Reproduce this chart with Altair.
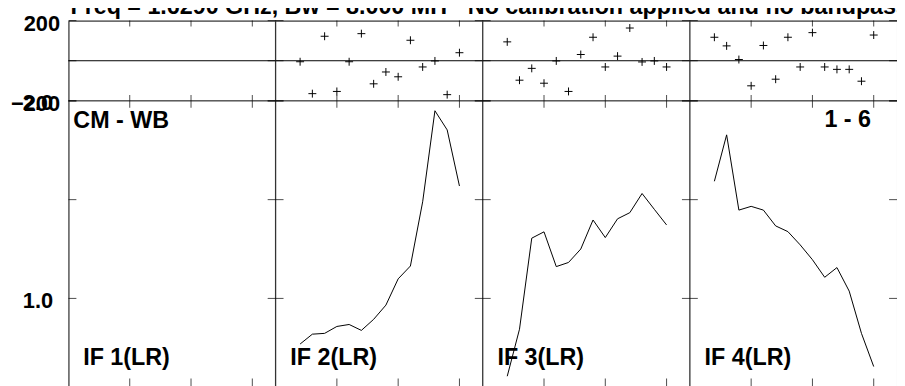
import altair as alt
import pandas as pd

# ---------------- values ----------------
TITLE_LEFT = "Freq = 1.6290 GHz, Bw = 8.000 MH"
TITLE_RIGHT = "No calibration applied and no bandpass"
CORNER_LEFT = "CM - WB"
CORNER_RIGHT = "1 - 6"
IF_LABELS = ["IF 1(LR)", "IF 2(LR)", "IF 3(LR)", "IF 4(LR)"]
IF_NUMBERS = [1, 2, 3, 4]
CHANNELS = [3, 4, 5, 6, 7, 8, 9, 10, 11, 12, 13, 14, 15, 16]

PHASE_IF2 = [-5, -164, 122, -153, -5, 135, -115, -56, -80, 102, -31, -1, -169, 40]
PHASE_IF3 = [94, -97, -38, -112, -1, -153, 31, 117, -31, 23, 163, -6, -1, -31]
PHASE_IF4 = [117, 74, 6, -125, 76, -92, 117, -31, 140, -31, -43, -43, -102, 128]

AMP_IF2 = [0.769, 0.819, 0.823, 0.858, 0.868, 0.838, 0.894, 0.966, 1.099, 1.164,
           1.489, 1.950, 1.853, 1.569]
AMP_IF3 = [0.606, 0.844, 1.305, 1.337, 1.161, 1.182, 1.250, 1.397, 1.308, 1.403,
           1.434, 1.531, 1.451, 1.372]
AMP_IF4 = [1.593, 1.828, 1.447, 1.466, 1.447, 1.367, 1.338, 1.271, 1.196, 1.107,
           1.156, 1.037, 0.823, 0.655]

CHANNEL_TICKS = [6, 11, 16]
PHASE_TICKS = [-200, 0, 200]
PHASE_LABELS = [-200, 200]
AMP_TICKS = [1.0, 1.5, 2.0]
AMP_LABELS = [1.0, 2.0]
PHASE_DOMAIN = [-200, 200]
AMP_DOMAIN = [0.555, 2.0]

# ---------------- layout (styles, not data) ----------------
PANEL_SPAN = 16.9      # channels covered by one IF panel
FIRST_CH = 1           # channel at the left edge of a panel
W, H, PHASE_H = 836, 369, 81
FONT = "Liberation Sans"
N_IF = len(IF_NUMBERS)


def gx(if_no, ch):
    return (if_no - 1) * PANEL_SPAN + (ch - FIRST_CH)


rows = []
for if_no, ph, am in [(2, PHASE_IF2, AMP_IF2), (3, PHASE_IF3, AMP_IF3), (4, PHASE_IF4, AMP_IF4)]:
    for ch, p, a in zip(CHANNELS, ph, am):
        rows.append({"IF": if_no, "ch": ch, "gx": gx(if_no, ch), "phase": p, "amp": a})
data = pd.DataFrame(rows)

xt = pd.DataFrame([{"gx": gx(i, c), "ptop": PHASE_DOMAIN[1], "pbot": PHASE_DOMAIN[0],
                    "atop": AMP_DOMAIN[1], "abot": AMP_DOMAIN[0]}
                   for i in IF_NUMBERS for c in CHANNEL_TICKS])
borders_inner = [k * PANEL_SPAN for k in range(1, N_IF)]
ph_inner = pd.DataFrame([{"gx": b, "v": v} for b in borders_inner for v in PHASE_TICKS])
am_inner = pd.DataFrame([{"gx": b, "v": v} for b in borders_inner for v in AMP_TICKS])
ph_left = pd.DataFrame([{"gx": 0.0, "v": v} for v in PHASE_TICKS])
ph_right = pd.DataFrame([{"gx": N_IF * PANEL_SPAN, "v": v} for v in PHASE_TICKS])
am_left = pd.DataFrame([{"gx": 0.0, "v": v} for v in AMP_TICKS])
am_right = pd.DataFrame([{"gx": N_IF * PANEL_SPAN, "v": v} for v in AMP_TICKS])
hlines = pd.DataFrame({"v": [0, PHASE_DOMAIN[0]]})
dividers = pd.DataFrame({"gx": borders_inner})

if_text = pd.DataFrame([{"gx": gx(i, 2.2), "amp": 0.661, "t": lab}
                        for i, lab in zip(IF_NUMBERS, IF_LABELS)])
corner_l = pd.DataFrame([{"gx": gx(1, 1.4), "amp": 1.862, "t": CORNER_LEFT}])
corner_r = pd.DataFrame([{"gx": gx(4, 15.78), "amp": 1.866, "t": CORNER_RIGHT}])
title_l = pd.DataFrame([{"t": TITLE_LEFT}])
title_r = pd.DataFrame([{"t": TITLE_RIGHT}])

XSCALE = alt.Scale(domain=[0, N_IF * PANEL_SPAN], nice=False, zero=False)


def X(field="gx"):
    return alt.X(f"{field}:Q", scale=XSCALE, axis=None)


PH_AXIS = alt.Axis(orient="left", values=PHASE_LABELS, format="d", ticks=False, tickSize=0,
                   domain=False, grid=False, labelOverlap=False, labelFont=FONT,
                   labelFontWeight="bold", labelFontSize=22, labelColor="black",
                   labelPadding=9, labelOffset=3, title=None)
AM_AXIS = alt.Axis(orient="left", values=AMP_LABELS, format=".1f", ticks=False, tickSize=0,
                   domain=False, grid=False, labelOverlap=False, labelFont=FONT,
                   labelFontWeight="bold", labelFontSize=22, labelColor="black",
                   labelPadding=16, labelOffset=2, title=None)


def PY(field):
    return alt.Y(f"{field}:Q", scale=alt.Scale(domain=PHASE_DOMAIN, range=[PHASE_H, 0],
                                               nice=False, zero=False), axis=PH_AXIS)


def AY(field):
    return alt.Y(f"{field}:Q", scale=alt.Scale(domain=AMP_DOMAIN, range=[H, PHASE_H],
                                               nice=False, zero=False), axis=AM_AXIS)


K = dict(color="black")

# ---- phase group ----
ph_rules = alt.Chart(hlines).mark_rule(strokeWidth=1, **K).encode(y=PY("v"))
div_rules = alt.Chart(dividers).mark_rule(strokeWidth=1.3, color="#333").encode(x=X())
ph_points = alt.Chart(data).mark_point(shape="M-1,0L1,0M0,-1L0,1", size=64, filled=False,
                                       stroke="black", strokeWidth=1, opacity=1).encode(
    x=X(), y=PY("phase"))
top_ticks = alt.Chart(xt).mark_tick(orient="vertical", size=6, thickness=1, yOffset=3,
                                    **K).encode(x=X(), y=PY("ptop"))
pbot_ticks = alt.Chart(xt).mark_tick(orient="vertical", size=6, thickness=1, yOffset=-3,
                                     **K).encode(x=X(), y=PY("pbot"))
ph_in = alt.Chart(ph_inner).mark_tick(orient="horizontal", size=16, thickness=1,
                                      **K).encode(x=X(), y=PY("v"))
ph_l = alt.Chart(ph_left).mark_tick(orient="horizontal", size=8, thickness=1, xOffset=4,
                                    **K).encode(x=X(), y=PY("v"))
ph_r = alt.Chart(ph_right).mark_tick(orient="horizontal", size=8, thickness=1, xOffset=-4,
                                     **K).encode(x=X(), y=PY("v"))
TXT = dict(font=FONT, fontWeight="bold", fontSize=23.5, color="black", baseline="alphabetic")
t_l = alt.Chart(title_l).mark_text(align="left", **TXT).encode(
    text="t:N", x=alt.value(2), y=alt.value(-7))
t_r = alt.Chart(title_r).mark_text(align="left", **TXT).encode(
    text="t:N", x=alt.value(403), y=alt.value(-7))

phase_group = alt.layer(ph_rules, div_rules, top_ticks, pbot_ticks, ph_in, ph_l, ph_r,
                        ph_points, t_l, t_r)

# ---- amplitude group ----
amp_lines = alt.Chart(data).mark_line(strokeWidth=1, **K).encode(
    x=X(), y=AY("amp"), detail="IF:N", order="ch:Q")
atop_ticks = alt.Chart(xt).mark_tick(orient="vertical", size=7, thickness=1, yOffset=3.5,
                                     **K).encode(x=X(), y=AY("atop"))
abot_ticks = alt.Chart(xt).mark_tick(orient="vertical", size=8, thickness=1, yOffset=-4,
                                     **K).encode(x=X(), y=AY("abot"))
am_in = alt.Chart(am_inner).mark_tick(orient="horizontal", size=16, thickness=1,
                                      **K).encode(x=X(), y=AY("v"))
am_l = alt.Chart(am_left).mark_tick(orient="horizontal", size=8, thickness=1, xOffset=4,
                                    **K).encode(x=X(), y=AY("v"))
am_r = alt.Chart(am_right).mark_tick(orient="horizontal", size=8, thickness=1, xOffset=-4,
                                     **K).encode(x=X(), y=AY("v"))
if_txt = alt.Chart(if_text).mark_text(align="left", **TXT).encode(
    x=X(), y=AY("amp"), text="t:N")
cl_txt = alt.Chart(corner_l).mark_text(align="left", **TXT).encode(
    x=X(), y=AY("amp"), text="t:N")
cr_txt = alt.Chart(corner_r).mark_text(align="right", **TXT).encode(
    x=X(), y=AY("amp"), text="t:N")

amp_group = alt.layer(atop_ticks, abot_ticks, am_in, am_l, am_r, amp_lines,
                      if_txt, cl_txt, cr_txt)

chart = alt.layer(phase_group, amp_group).resolve_scale(y="independent").properties(
    width=W, height=H,
    padding={"left": 61, "top": 11, "right": 0, "bottom": 0},
    autosize=alt.AutoSizeParams(type="none"),
    background="white",
).configure_view(stroke="black", strokeWidth=1)

chart.save("out.html", embed_options={"renderer": "svg", "actions": False})
